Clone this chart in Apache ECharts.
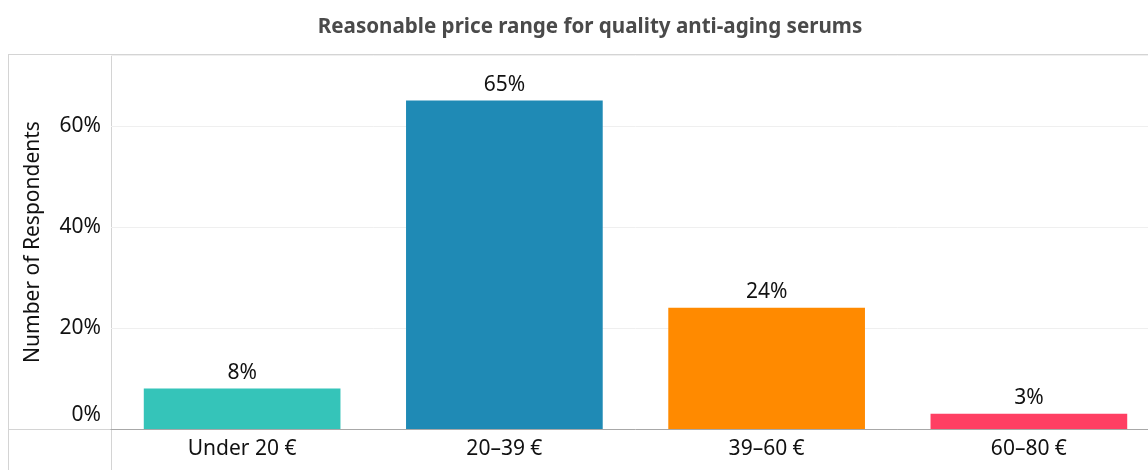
<!DOCTYPE html>
<html>
<head>
<meta charset="utf-8">
<script src="https://cdn.jsdelivr.net/npm/echarts@6/dist/echarts.min.js"></script>
<style>
  html, body { margin: 0; padding: 0; background: #fff; overflow: hidden; }
  /* the plot runs slightly past the right edge of the window */
  #chart { width: 1160px; height: 470px; }
</style>
</head>
<body>
<div id="chart"></div>
<script>
// Survey: what price feels reasonable for a quality anti-aging serum
const categories = ['Under 20 €', '20–39 €', '39–60 €', '60–80 €'];
const shares = [8, 65, 24, 3];
const barColors = ['#35c4b9', '#1f8ab5', '#ff8a00', '#ff3f63'];
const yTicks = [0, 20, 40, 60];

const FONT = '"Noto Sans", "Open Sans", sans-serif';
const chart = echarts.init(document.getElementById('chart'));

chart.setOption({
  animation: false,
  title: {
    text: 'Reasonable price range for quality anti-aging serums',
    left: 585,
    textAlign: 'center',
    top: 12,
    textStyle: { fontFamily: FONT, fontSize: 20.6, fontWeight: 'bold', color: '#4a4a4a' }
  },
  grid: { left: 111, right: 0, top: 55, bottom: 41 },
  xAxis: {
    type: 'category',
    data: categories,
    axisTick: { show: false },
    axisLine: { lineStyle: { color: '#a8a8a8', width: 1 } },
    axisLabel: { fontFamily: FONT, fontSize: 21, color: '#111', margin: 10 }
  },
  yAxis: {
    type: 'value',
    min: 0,
    max: 74,
    interval: 20,
    name: 'Number of Respondents',
    nameLocation: 'middle',
    nameGap: 67,
    nameTextStyle: { fontFamily: FONT, fontSize: 21, color: '#111' },
    axisLine: { show: false },
    axisTick: { show: false },
    axisLabel: {
      fontFamily: FONT, fontSize: 21, color: '#111', margin: 10,
      showMaxLabel: false,
      // the zero label sits just above the baseline
      formatter: v => !yTicks.includes(v) ? '' : (v === 0 ? '{low|0%}' : v + '%'),
      rich: {
        low: { fontFamily: FONT, fontSize: 21, color: '#111', padding: [0, 0, 28, 0] }
      }
    },
    splitLine: { lineStyle: { color: '#efefef', width: 1 } }
  },
  series: [{
    type: 'bar',
    barWidth: '75%',
    data: shares.map((v, i) => ({ value: v, itemStyle: { color: barColors[i] } })),
    label: {
      show: true,
      position: 'top',
      distance: 5,
      fontFamily: FONT,
      fontSize: 21,
      color: '#111',
      formatter: p => p.value + '%'
    }
  }],
  graphic: [
    // frame around the view and the row/column dividers
    { type: 'line', silent: true, shape: { x1: 8, y1: 54.5, x2: 1160, y2: 54.5 }, style: { stroke: '#d4d4d4', lineWidth: 1 } },
    { type: 'line', silent: true, shape: { x1: 8.5, y1: 54, x2: 8.5, y2: 470 }, style: { stroke: '#d4d4d4', lineWidth: 1 } },
    { type: 'line', silent: true, shape: { x1: 111.5, y1: 54, x2: 111.5, y2: 470 }, style: { stroke: '#d4d4d4', lineWidth: 1 } },
    { type: 'line', silent: true, shape: { x1: 8, y1: 429.5, x2: 111, y2: 429.5 }, style: { stroke: '#d4d4d4', lineWidth: 1 } }
  ]
});
</script>
</body>
</html>
